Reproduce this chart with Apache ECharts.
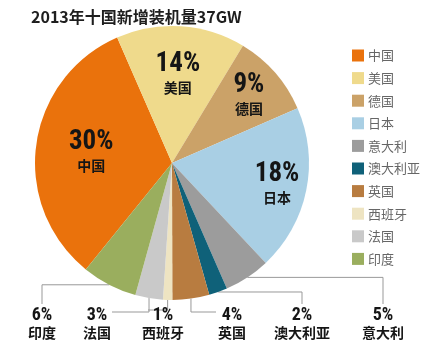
<!DOCTYPE html>
<html>
<head>
<meta charset="utf-8">
<script src="https://cdn.jsdelivr.net/npm/echarts@6/dist/echarts.min.js"></script>
<style>
  html, body { margin: 0; padding: 0; background: #fff; }
  #main { width: 432px; height: 354px; }
</style>
</head>
<body>
<div id="main"></div>
<script>
// 2013 new PV installations by country (share, %)
const countries = ['中国', '美国', '德国', '日本', '意大利', '澳大利亚', '英国', '西班牙', '法国', '印度'];
const shares = [30, 14, 9, 18, 5, 2, 4, 1, 3, 6];
const sliceColors = ['#EA720C', '#EFDA8C', '#CBA268', '#A9CFE4', '#9C9C9C', '#0F6179', '#B87C40', '#EEE4C2', '#C9C9C9', '#9AAE5E'];
const bigSlices = ['中国', '美国', '德国', '日本'];

const CX = 172, CY = 163, R = 137;
const numFont = '"Roboto Condensed", "DejaVu Sans Condensed", sans-serif';
const cjkFont = '"Noto Sans CJK SC", sans-serif';

// how far out the inside labels sit, relative to the default half-radius spot
const innerPush = { '中国': 1.14, '美国': 1.24, '德国': 1.43, '日本': 1.5 };

// where the outside labels sit (label centre x, top y) and how the leader bends
const outsideLabels = {
    '印度':     { x: 42,  y: 307, route: 'h' },
    '法国':     { x: 97,  y: 307, route: 'v', bendY: 312, endX: 112 },
    '西班牙':   { x: 163, y: 307, route: 'v', bendY: 310, endX: 148 },
    '英国':     { x: 232, y: 307, route: 'v', bendY: 312, endX: 216 },
    '澳大利亚': { x: 302, y: 307, route: 'h' },
    '意大利':   { x: 383, y: 307, route: 'h' }
};

const chart = echarts.init(document.getElementById('main'), null, { renderer: 'canvas' });

const seriesData = countries.map(function (name, i) {
    const big = bigSlices.indexOf(name) >= 0;
    return {
        name: name,
        value: shares[i],
        itemStyle: { color: sliceColors[i] },
        label: big ? {
            position: 'inside',
            formatter: '{p|{c}%}\n{n|{b}}',
            rich: {
                p: { fontFamily: numFont, fontWeight: 'bold', fontSize: 27, color: '#151515', lineHeight: 28 },
                n: { fontFamily: cjkFont, fontWeight: 'bold', fontSize: 14, color: '#151515', lineHeight: 18 }
            }
        } : {
            position: 'outside',
            formatter: '{p|{c}%}\n{n|{b}}',
            rich: {
                p: { fontFamily: numFont, fontWeight: 'bold', fontSize: 18, color: '#151515', lineHeight: 17, align: 'center' },
                n: { fontFamily: cjkFont, fontWeight: 'bold', fontSize: 14, color: '#151515', lineHeight: 17, align: 'center' }
            }
        },
        labelLine: { show: !big }
    };
});

const option = {
    animation: false,
    backgroundColor: '#fff',
    title: {
        text: '2013年十国新增装机量37GW',
        left: 26,
        top: 4,
        textStyle: { fontFamily: cjkFont, fontSize: 16, fontWeight: 'bold', color: '#1e1e1e' }
    },
    legend: {
        orient: 'vertical',
        left: 347,
        top: 44,
        icon: 'rect',
        itemWidth: 12,
        itemHeight: 12,
        itemGap: 9.6,
        data: countries,
        textStyle: { fontFamily: cjkFont, fontSize: 13, color: '#666', padding: [0, 0, 0, -1] }
    },
    series: [
        {
            type: 'pie',
            center: [CX, CY],
            radius: R,
            startAngle: 231,
            clockwise: true,
            avoidLabelOverlap: false,
            itemStyle: { borderWidth: 0 },
            labelLine: { lineStyle: { color: '#999', width: 1 }, length: 10, length2: 10 },
            labelLayout: function (p) {
                const name = countries[p.dataIndex];
                const lr = p.labelRect;
                if (bigSlices.indexOf(name) >= 0) {
                    const k = innerPush[name];
                    const lx = lr.x + lr.width / 2, ly = lr.y + lr.height / 2;
                    return {
                        x: CX + (lx - CX) * k,
                        y: CY + (ly - CY) * k,
                        align: 'center',
                        verticalAlign: 'middle'
                    };
                }
                const cfg = outsideLabels[name];
                const s = p.labelLinePoints ? p.labelLinePoints[0] : [CX, CY + R];
                let pts;
                if (cfg.route === 'h') {
                    pts = [[s[0], s[1]], [cfg.x, s[1]], [cfg.x, cfg.y - 3]];
                } else {
                    pts = [[s[0], s[1]], [s[0], cfg.bendY], [cfg.endX, cfg.bendY]];
                }
                return {
                    x: cfg.x,
                    y: cfg.y,
                    align: 'center',
                    verticalAlign: 'top',
                    labelLinePoints: pts
                };
            },
            data: seriesData
        }
    ]
};

chart.setOption(option);
</script>
</body>
</html>
